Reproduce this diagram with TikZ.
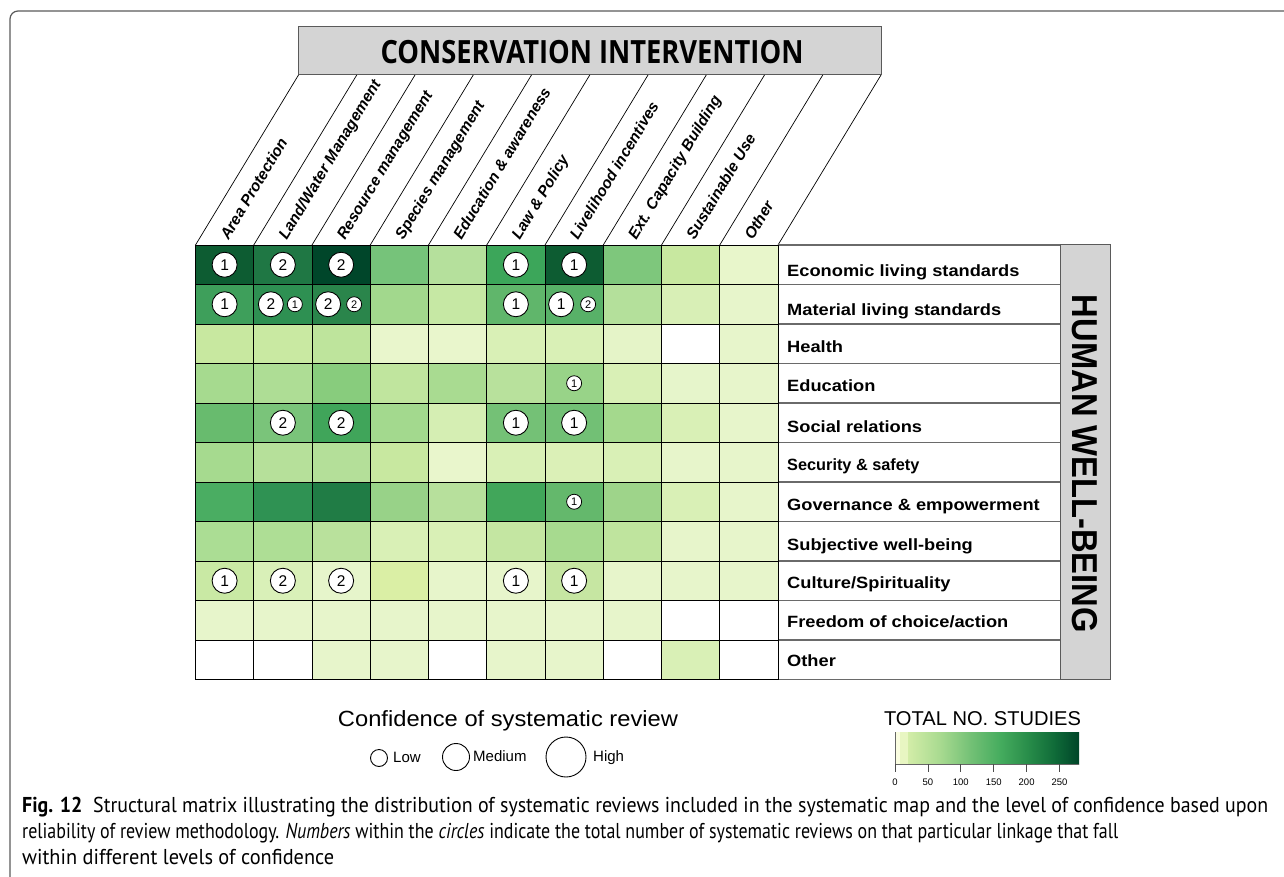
\documentclass[tikz,border=0pt]{standalone}
\usepackage{fontspec}
\usepackage{graphicx}
\setmainfont{Liberation Sans}
\newfontfamily\capfont{PT Sans}
\newfontfamily\headfont{Open Sans}
\definecolor{framegray}{HTML}{5A5A5A}
\definecolor{boxgray}{HTML}{D4D4D4}
\definecolor{sepgray}{HTML}{6A6A6A}
\definecolor{g0}{HTML}{FAFDE0}
\definecolor{g1}{HTML}{E8F6C2}
\definecolor{g2}{HTML}{D3EDA8}
\definecolor{g3}{HTML}{A8DA90}
\definecolor{g4}{HTML}{74C176}
\definecolor{g5}{HTML}{45AC5E}
\definecolor{g6}{HTML}{268A48}
\definecolor{g7}{HTML}{0F6A38}
\definecolor{g8}{HTML}{004529}
\tikzset{
  cell/.style={draw=black, line width=0.9pt, minimum width=58.25pt, minimum height=39.5pt, inner sep=0pt},
  medc/.style={circle, draw=black, line width=0.9pt, fill=white, minimum size=25pt, inner sep=0pt, font=\fontsize{15.5}{15.5}\selectfont},
  smallc/.style={circle, draw=black, line width=0.8pt, fill=white, minimum size=15pt, inner sep=0pt, font=\fontsize{11}{11}\selectfont},
  collab/.style={anchor=base west, rotate=59, inner sep=0pt, font=\fontsize{15.5}{15.5}\selectfont\bfseries\itshape},
  rowlab/.style={anchor=base west, inner sep=0pt, font=\fontsize{16.3}{16}\selectfont\bfseries},
  slant/.style={draw=black, line width=0.7pt},
  sep/.style={draw=sepgray, line width=1.3pt},
  legc/.style={circle, draw=black, line width=0.9pt, inner sep=0pt},
  legt/.style={anchor=west, inner sep=0pt, font=\fontsize{15}{15}\selectfont},
  tick/.style={draw=black!70, line width=0.8pt},
  ticklab/.style={inner sep=0pt, font=\fontsize{9.5}{9.5}\selectfont},
  capline/.style={anchor=base west, inner sep=0pt, font=\capfont\fontsize{21.5}{21.5}\selectfont}
}
\begin{document}
\begin{tikzpicture}[x=1pt,y=-1pt]
\useasboundingbox (0,0) rectangle (1284,877);
% outer figure frame
\draw[framegray, line width=1.2pt, rounded corners=8pt] (10,877) -- (10,11) -- (1284,11);

% header box
\node[draw=framegray, line width=1pt, fill=boxgray, minimum width=583pt, minimum height=48pt, inner sep=0pt] (head) at (589.5,51) {};
\node[inner sep=0pt, font=\headfont\bfseries\fontsize{32}{32}\selectfont] (headtxt) at (592,52.5) {\resizebox{423pt}{\height}{CONSERVATION INTERVENTION}};

% slanted column lines
\foreach \c in {0,...,10}{
  \coordinate (sb-\c) at ({195.5+58.25*\c},245);
  \coordinate (st-\c) at ({298.5+58.25*\c},75);
  \draw[slant] (sb-\c) -- (st-\c);
}

% matrix cells
\foreach \r/\cols in {
 1/{0D5C32,1F7744,00462A,76C37A,B5E09C,3CA65A,0D5C32,7EC77C,C8E8A0,E8F6CB},
 2/{3E9F5B,2E9052,2A854B,A2D88D,C6E8A4,60B66B,58B168,B4E09B,D8EFB6,E7F5CB},
 3/{C8E8A0,C9E9A2,BEE49C,E9F6CC,E9F6CC,D9F0B6,D9F0B6,E5F4C8,FFFFFF,E7F5CB},
 4/{A6DA8F,AEDD95,88CC7D,C0E59E,A9DB91,B8E19C,98D388,D9F0B6,E6F5CB,E7F5CB},
 5/{68BB6E,7AC47A,40A55A,A3D98E,D5EEB3,74C176,72C075,A4D98D,D9F0B6,E7F5CB},
 6/{A6DA8F,B6E09A,B4DF99,C8E8A0,E9F6CC,D9F0B6,DBF0B7,D9F0B6,E7F5CB,E7F5CB},
 7/{4AAD62,2F9253,207C45,98D288,B7E09C,41A65A,64B86C,9ED48A,D9F0B6,E7F5CB},
 8/{ABDD94,AEDE95,B9E19C,D9F0B6,D9F0B6,C4E6A2,A7DA8F,BFE49E,E7F5CB,E7F5CB},
 9/{C9E9A4,D9F0B8,E6F5CB,DAEFA5,E7F5CB,E7F5CB,C6E6A2,E7F5CB,E7F5CB,E7F5CB},
 10/{E7F5CB,E7F5CB,E7F5CB,E7F5CB,E7F5CB,E7F5CB,E7F5CB,E7F5CB,FFFFFF,FFFFFF},
 11/{FFFFFF,FFFFFF,E7F5CB,E7F5CB,FFFFFF,E7F5CB,E7F5CB,FFFFFF,D9F0B6,FFFFFF}}{
  \foreach \h [count=\c] in \cols {
    \edef\defc{\noexpand\definecolor{tmp}{HTML}{\h}}\defc
    \node[cell, fill=tmp] (m-\r-\c) at ({224.625+58.25*(\c-1)},{264.75+39.5*(\r-1)}) {};
  }
}

% circles
\foreach \r/\c/\n in {1/1/1,1/2/2,1/3/2,1/6/1,1/7/1,2/1/1,2/6/1,5/2/2,5/3/2,5/6/1,5/7/1,9/1/1,9/2/2,9/3/2,9/6/1,9/7/1}{
  \node[medc] (o-\r-\c) at (m-\r-\c) {\n};
}
\node[medc]   (o-2-2a) at ([xshift=-12pt]m-2-2.center) {2};
\node[smallc] (o-2-2b) at ([xshift=12pt]m-2-2.center) {1};
\node[medc]   (o-2-3a) at ([xshift=-13pt]m-2-3.center) {2};
\node[smallc] (o-2-3b) at ([xshift=13pt]m-2-3.center) {2};
\node[medc]   (o-2-7a) at ([xshift=-13pt]m-2-7.center) {1};
\node[smallc] (o-2-7b) at ([xshift=14pt]m-2-7.center) {2};
\node[smallc] (o-4-7) at (m-4-7) {1};
\node[smallc] (o-7-7) at (m-7-7) {1};

% column labels
\foreach \t [count=\c] in {Area Protection,{Land/Water Management},Resource management,Species management,Education \& awareness,Law \& Policy,Livelihood incentives,Ext. Capacity Building,Sustainable Use,Other}{
  \node[collab] (cl-\c) at ({195.5+58.25*(\c-1)+33},241) {\t};
}

% row label area
\draw[sep] (778,245) -- (1060,245);
\foreach \k in {1,...,10}{
  \draw[sep] (778,{245+39.5*\k}) -- (1060,{245+39.5*\k});
}
\draw[sep] (778,679.5) -- (1060,679.5);
\draw[black, line width=0.9pt] (778,245) -- (778,679.5);

\foreach \r/\b/\t in {1/276.5/{Economic living standards},2/315/{Material living standards},3/352.5/{Health},4/391.5/{Education},5/432/{Social relations},7/510/{Governance \& empowerment},8/550/{Subjective well-being},9/588/{Culture/Spirituality},10/627/{Freedom of choice/action},11/666.5/{Other}}{
  \node[rowlab] (rl-\r) at (787,\b) {\scalebox{1.12}[1]{\t}};
}
\node[rowlab] (rl-6) at (787,470) {Security \& safety};

% human well-being box
\node[draw=framegray, line width=1pt, fill=boxgray, minimum width=50pt, minimum height=434.5pt, inner sep=0pt] (hwb) at (1085,462.25) {};
\node[rotate=-90, inner sep=0pt, font=\bfseries\fontsize{36}{36}\selectfont] (hwbtxt) at (1085,464) {\resizebox{338pt}{\height}{HUMAN WELL-BEING}};

% confidence legend
\node[inner sep=0pt, font=\fontsize{22}{22}\selectfont] (conf) at (508,721) {\resizebox{340pt}{\height}{Confidence of systematic review}};
\node[legc, minimum size=17pt] (lowc) at (379,758) {};
\node[legt] (lowt) at (393,757.5) {Low};
\node[legc, minimum size=27pt] (medcirc) at (456,757) {};
\node[legt] (medt) at (473,756.5) {Medium};
\node[legc, minimum size=40pt] (highc) at (566,757) {};
\node[legt] (hight) at (593,757.5) {High};

% colour bar
\node[inner sep=0pt, font=\fontsize{20}{20}\selectfont] (tot) at (982.5,719) {\resizebox{197pt}{\height}{TOTAL NO. STUDIES}};
\fill[g0] (895,732) rectangle (900,764);
\fill[g1] (900,732) rectangle (908,764);
\shade[left color=g2, right color=g3] (908,732) rectangle (940.3,764);
\shade[left color=g3, right color=g4] (940,732) rectangle (970.3,764);
\shade[left color=g4, right color=g5] (970,732) rectangle (1000.3,764);
\shade[left color=g5, right color=g6] (1000,732) rectangle (1030.3,764);
\shade[left color=g6, right color=g7] (1030,732) rectangle (1055.3,764);
\shade[left color=g7, right color=g8] (1055,732) rectangle (1079,764);
\draw[black!60, line width=0.8pt] (895,732) -- (895,764) -- (1079,764);
\foreach \v in {0,50,100,150,200,250}{
  \draw[tick] ({895+0.658*\v},764) -- ({895+0.658*\v},772);
  \node[ticklab] (tl-\v) at ({895+0.658*\v},782) {\v};
}

% caption
\node[capline] (cap1) at (22,812.7) {\resizebox{1246pt}{\height}{\textbf{Fig. 12}\ \ Structural matrix illustrating the distribution of systematic reviews included in the systematic map and the level of confidence based upon}};
\node[capline] (cap2) at (22,838.5) {\resizebox{1096pt}{\height}{reliability of review methodology. \textit{Numbers} within the \textit{circles} indicate the total number of systematic reviews on that particular linkage that fall}};
\node[capline] (cap3) at (22,864.5) {\resizebox{312pt}{\height}{within different levels of confidence}};
\end{tikzpicture}
\end{document}
